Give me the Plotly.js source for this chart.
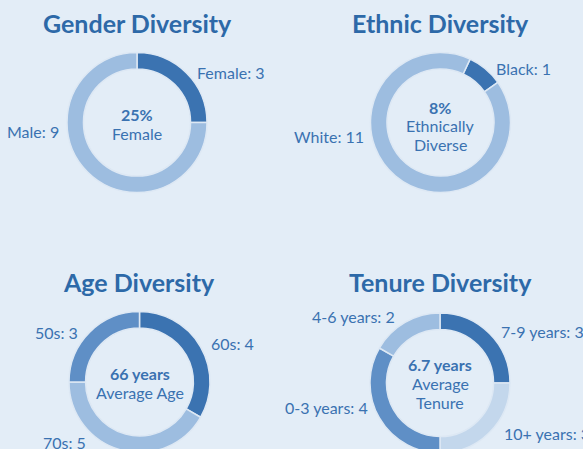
<!DOCTYPE html>
<html>
<head>
<meta charset="utf-8">
<script src="https://cdn.plot.ly/plotly-3.0.1.min.js"></script>
<style>
html,body{margin:0;padding:0;width:583px;height:449px;overflow:hidden;background:#e3edf7;}
#chart{width:583px;height:460px;}
</style>
</head>
<body>
<div id="chart"></div>
<script>
// ---- data ----
const genderLabels = ['Female', 'Male'];
const genderValues = [3, 9];
const genderColors = ['#3b73b1', '#9dbde0'];

const ethnicLabels = ['Black', 'White'];
const ethnicValues = [1, 11];
const ethnicColors = ['#3b73b1', '#9dbde0'];

const ageLabels = ['60s', '70s', '50s'];
const ageValues = [4, 5, 3];
const ageColors = ['#3b73b1', '#9dbde0', '#5f8fc6'];

const tenureLabels = ['7-9 years', '10+ years', '0-3 years', '4-6 years'];
const tenureValues = [3, 3, 4, 2];
const tenureColors = ['#3b73b1', '#c3d7ec', '#5f8fc6', '#9dbde0'];

const chartTitles = ['Gender Diversity', 'Ethnic Diversity', 'Age Diversity', 'Tenure Diversity'];
const avgAge = '66 years';
const avgTenure = '6.7 years';

// ---- layout helpers ----
const W = 583, H = 460;
const TITLE_C = '#2d69a8', TEXT_C = '#3a72b1', SEP = '#dde8f4';
const FS = 16, TS = 25;
function dom(cx, cy, r) {
  return {x: [(cx - r) / W, (cx + r) / W], y: [(H - (cy + r)) / H, (H - (cy - r)) / H]};
}
function pie(labels, values, colors, d, rot) {
  return {
    type: 'pie', labels: labels, values: values, hole: 0.765, sort: false,
    direction: 'clockwise', rotation: rot, domain: d, textinfo: 'none',
    hoverinfo: 'label+value', showlegend: false,
    marker: {colors: colors, line: {color: SEP, width: 1.5}}
  };
}
function ann(text, x, y, anchor, size, bold, color) {
  return {text: bold ? '<b>' + text + '</b>' : text, x: x / W, y: (H - y) / H,
    xref: 'paper', yref: 'paper', xanchor: anchor, yanchor: 'middle', showarrow: false,
    font: {family: 'Lato, sans-serif', size: size, color: color || TEXT_C}};
}
const lbl = (labels, values, i) => labels[i] + ': ' + values[i];

const traces = [
  pie(genderLabels, genderValues, genderColors, dom(137, 122.5, 70), 0),
  pie(ethnicLabels, ethnicValues, ethnicColors, dom(440.5, 122.5, 70), 25),
  pie(ageLabels, ageValues, ageColors, dom(139.5, 382, 70.5), 0),
  pie(tenureLabels, tenureValues, tenureColors, dom(440, 383, 70), 0)
];

const pct = (v, vals) => Math.round(100 * v / vals.reduce((a, b) => a + b, 0)) + '%';

const annotations = [
  ann(chartTitles[0], 137, 23, 'center', TS, true, TITLE_C),
  ann(chartTitles[1], 440, 23, 'center', TS, true, TITLE_C),
  ann(chartTitles[2], 139, 282, 'center', TS, true, TITLE_C),
  ann(chartTitles[3], 440, 282, 'center', TS, true, TITLE_C),

  ann(lbl(genderLabels, genderValues, 0), 195, 72, 'left', FS),
  ann(lbl(genderLabels, genderValues, 1), 61, 131, 'right', FS),
  ann(pct(genderValues[0], genderValues), 137, 114, 'center', FS, true),
  ann(genderLabels[0], 137, 133, 'center', FS),

  ann(lbl(ethnicLabels, ethnicValues, 0), 494, 68, 'left', FS),
  ann(lbl(ethnicLabels, ethnicValues, 1), 366, 137, 'right', FS),
  ann(pct(ethnicValues[0], ethnicValues), 440, 107, 'center', FS, true),
  ann('Ethnically', 440, 125, 'center', FS),
  ann('Diverse', 440, 144, 'center', FS),

  ann(lbl(ageLabels, ageValues, 0), 209, 343, 'left', FS),
  ann(lbl(ageLabels, ageValues, 1), 88, 442, 'right', FS),
  ann(lbl(ageLabels, ageValues, 2), 80, 332, 'right', FS),
  ann(avgAge, 139.5, 373, 'center', FS, true),
  ann('Average Age', 139.5, 392, 'center', FS),

  ann(lbl(tenureLabels, tenureValues, 0), 499, 331, 'left', FS),
  ann(lbl(tenureLabels, tenureValues, 1), 502, 433, 'left', FS),
  ann(lbl(tenureLabels, tenureValues, 2), 370, 407, 'right', FS),
  ann(lbl(tenureLabels, tenureValues, 3), 397, 316, 'right', FS),
  ann(avgTenure, 440, 364, 'center', FS, true),
  ann('Average', 440, 383, 'center', FS),
  ann('Tenure', 440, 402, 'center', FS)
];

Plotly.newPlot('chart', traces, {
  width: W, height: H, margin: {l: 0, r: 0, t: 0, b: 0},
  paper_bgcolor: '#e3edf7', plot_bgcolor: '#e3edf7',
  font: {family: 'Lato, sans-serif', color: TEXT_C},
  annotations: annotations
}, {displayModeBar: false, staticPlot: false});
</script>
</body>
</html>
